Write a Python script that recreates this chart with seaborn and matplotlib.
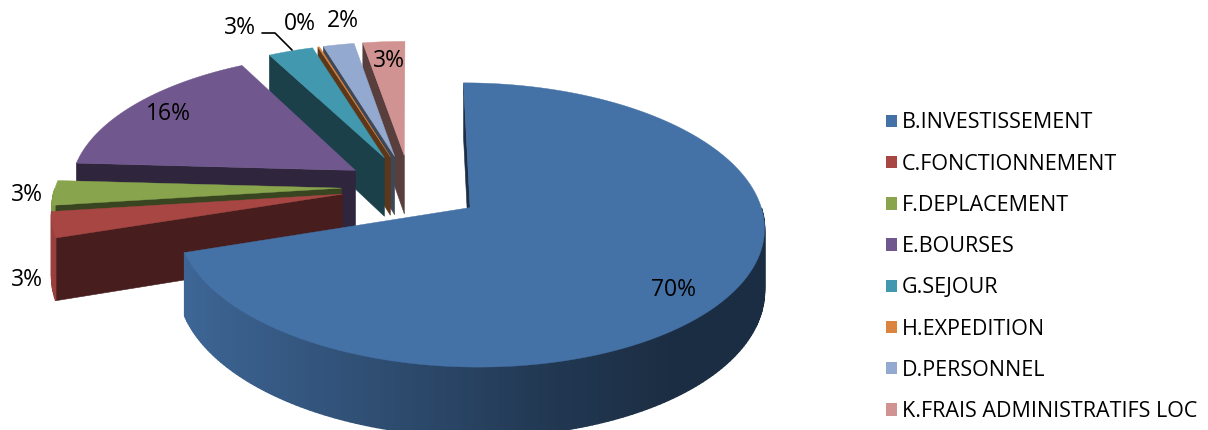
import numpy as np
import matplotlib
matplotlib.use("Agg")
import matplotlib.pyplot as plt
from matplotlib.patches import Patch
import seaborn as sns

categories = ["B.INVESTISSEMENT", "C.FONCTIONNEMENT", "F.DEPLACEMENT", "E.BOURSES",
              "G.SEJOUR", "H.EXPEDITION", "D.PERSONNEL", "K.FRAIS ADMINISTRATIFS LOC"]
values = [70.0, 3.0, 2.9, 16.4, 2.9, 0.1, 2.0, 2.7]
hex_colors = ["#4471A6", "#A84644", "#88A54E", "#70588E", "#4198AF", "#DB843D", "#93A9CF", "#D19392"]
explode = [0.255, 0.24, 0.24, 0.23, 0.24, 0.24, 0.24, 0.24]
label_xy = [(674, 290), (27, 280), (27, 195), (168, 114), (240, 28), (300, 24), (343, 21), (389, 61)]

sns.set_theme(style="white")
plt.rcParams["font.family"] = ["Open Sans", "DejaVu Sans"]
palette = sns.color_palette(hex_colors)

CX, CY, RX, RY, K, DEPTH = 410.0, 187.0, 286.0, 135.0, 0.12, 60.0


def project(u, v, z=0.0):
    s = 1.0 / (1.0 - K * v)
    return CX + RX * u * s, CY + RY * v * s + z * DEPTH * s


def darken(c, f):
    return tuple(min(1, x * f) for x in c)


fig = plt.figure(figsize=(12.08, 4.30), dpi=100)
ax = fig.add_axes([0, 0, 1, 1])
ax.set_xlim(0, 1208)
ax.set_ylim(430, 0)
ax.axis("off")

cum = np.concatenate([[0.0], np.cumsum(values)])
total = cum[-1]
starts = cum[:-1] / total * 2 * np.pi
ends = cum[1:] / total * 2 * np.pi


def slice_parts(i):
    mid = (starts[i] + ends[i]) / 2
    ou, ov = explode[i] * np.sin(mid), -explode[i] * np.cos(mid)
    n = max(3, int(np.degrees(ends[i] - starts[i])))
    th = np.linspace(starts[i], ends[i], n)
    return ou, ov, th, ou + np.sin(th), ov - np.cos(th)


for i in [7, 6, 5, 4, 3, 2, 1, 0]:
    col = palette[i]
    wall = darken(col, 0.42)
    ou, ov, th, us, vs = slice_parts(i)
    z0 = i * -10 + 70
    # radial walls: only those facing the viewer
    faces = []
    if np.sin(th[0]) <= 1e-9:
        faces.append((us[0], vs[0]))
    if np.sin(th[-1]) > 1e-9:
        faces.append((us[-1], vs[-1]))
    for ue, ve in faces:
        a = project(ou, ov); b = project(ue, ve)
        c = project(ue, ve, 1); d = project(ou, ov, 1)
        ax.fill([a[0], b[0], c[0], d[0]], [a[1], b[1], c[1], d[1]], color=wall, lw=0.4, zorder=z0)
    # outer rim with left-to-right shading, front half only
    for j in range(len(th) - 1):
        tm = (th[j] + th[j + 1]) / 2
        if -np.cos(tm) <= 0:
            continue
        nu = np.sin(tm)
        f = np.interp(nu, [-1.0, -0.4, 0.2, 0.6, 1.0], [0.92, 0.72, 0.50, 0.40, 0.40])
        a = project(us[j], vs[j]); b = project(us[j + 1], vs[j + 1])
        c = project(us[j + 1], vs[j + 1], 1); d = project(us[j], vs[j], 1)
        ax.fill([a[0], b[0], c[0], d[0]], [a[1], b[1], c[1], d[1]],
                color=darken(col, f), lw=1.0, zorder=z0 + 1)
    # top face
    pts = [project(ou, ov)] + [project(u, v) for u, v in zip(us, vs)]
    ax.fill([p[0] for p in pts], [p[1] for p in pts], color=col, lw=0.3, zorder=z0 + 2)

for val, (x, y) in zip(values, label_xy):
    ax.text(x, y, f"{val / total * 100:.0f}%", ha="center", va="center",
            fontsize=16.5, color="black", zorder=100)
ax.plot([262, 275, 292], [33, 33, 50], color="black", lw=1.2, zorder=100)

handles = [Patch(facecolor=c, edgecolor="none", label=t) for c, t in zip(palette, categories)]
ax.legend(handles=handles, loc="upper left", bbox_to_anchor=(886, 112.5),
          bbox_transform=ax.transData, frameon=False, fontsize=15.5, borderpad=0, borderaxespad=0,
          labelspacing=0.94, handlelength=0.51, handleheight=0.51, handletextpad=0.23,
          labelcolor="black")
fig.savefig("out.png", dpi=100, facecolor="white")
